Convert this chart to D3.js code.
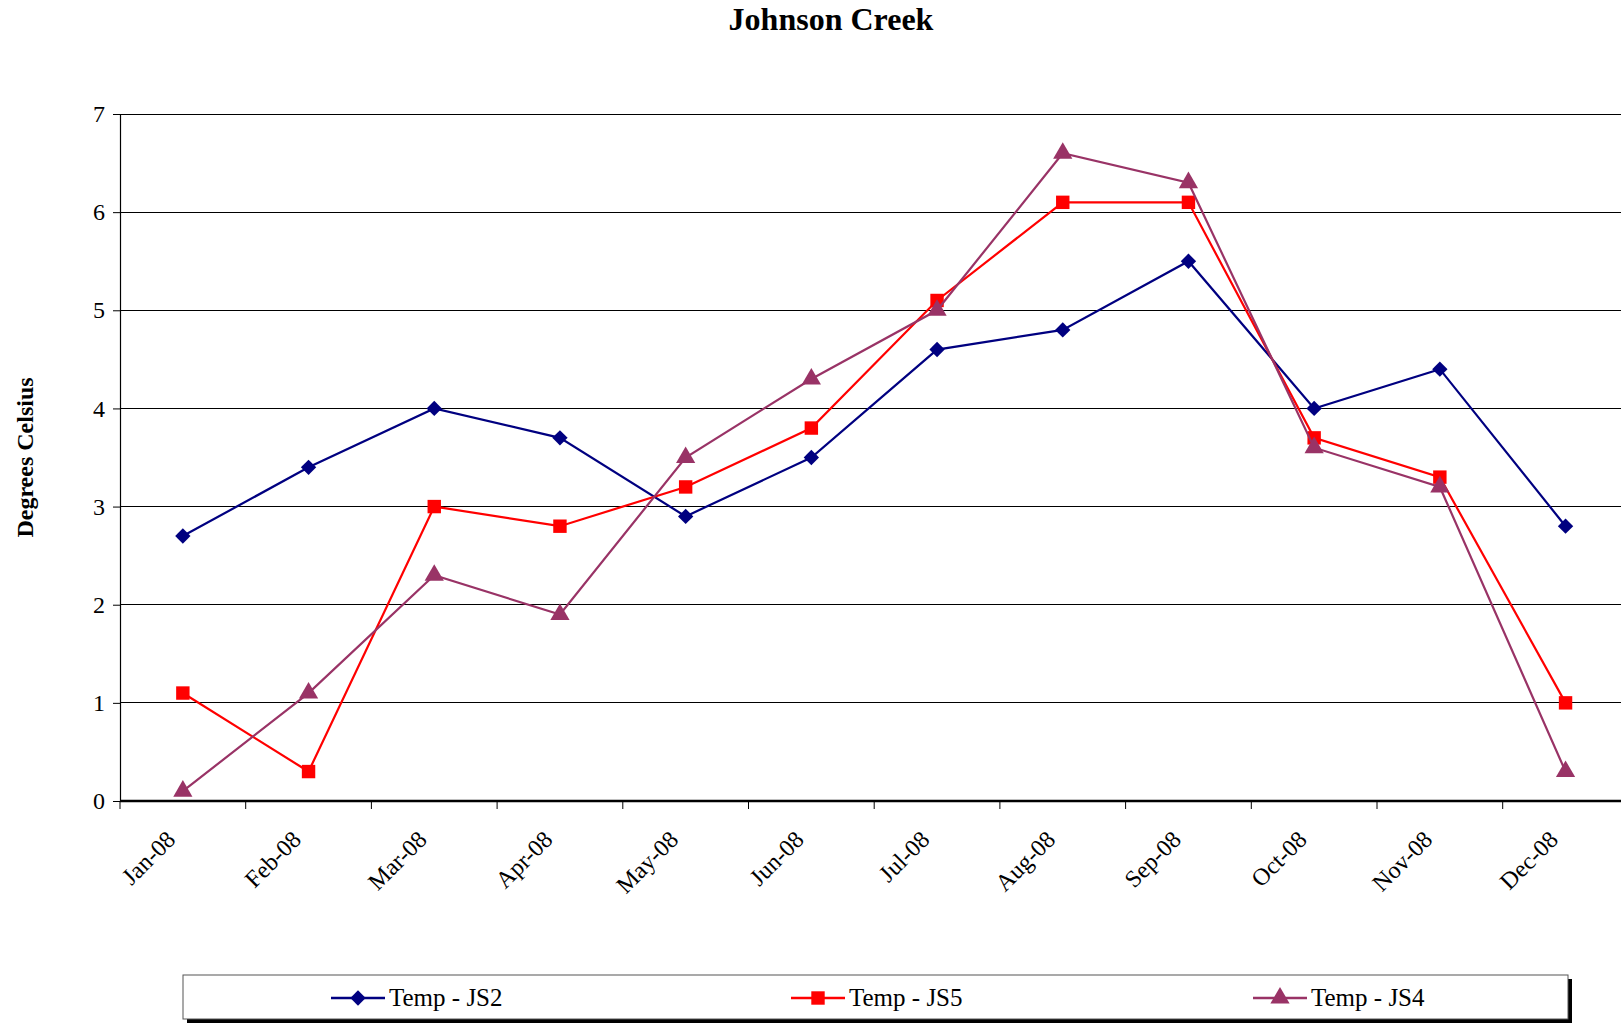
<!DOCTYPE html>
<html>
<head>
<meta charset="utf-8">
<script src="https://cdn.jsdelivr.net/npm/d3@7"></script>
<style>
  html, body { margin: 0; padding: 0; background: #fff; }
  svg { display: block; }
  svg text { font-family: "Liberation Serif", "Times New Roman", serif !important; fill: #000; }
</style>
</head>
<body>
<svg id="chart" width="1621" height="1023"></svg>
<script>
// Monthly water temperatures at three Johnson Creek stations, 2008
const months = ["Jan-08", "Feb-08", "Mar-08", "Apr-08", "May-08", "Jun-08",
                "Jul-08", "Aug-08", "Sep-08", "Oct-08", "Nov-08", "Dec-08"];
const js2 = [2.7, 3.4, 4.0, 3.7, 2.9, 3.5, 4.6, 4.8, 5.5, 4.0, 4.4, 2.8];
const js5 = [1.1, 0.3, 3.0, 2.8, 3.2, 3.8, 5.1, 6.1, 6.1, 3.7, 3.3, 1.0];
const js4 = [0.1, 1.1, 2.3, 1.9, 3.5, 4.3, 5.0, 6.6, 6.3, 3.6, 3.2, 0.3];
const yTicks = [0, 1, 2, 3, 4, 5, 6, 7];

const series = [
  { name: "Temp - JS2", values: js2, color: "#000080", symbol: "diamond" },
  { name: "Temp - JS5", values: js5, color: "#FF0000", symbol: "square" },
  { name: "Temp - JS4", values: js4, color: "#993366", symbol: "triangle" }
];

const svg = d3.select("#chart");
const plotLeft = 120, plotTop = 114, plotBottom = 801;
const band = 125.7;
const plotRight = plotLeft + band * months.length;

const x = d3.scaleBand().domain(months).range([plotLeft, plotRight]).padding(0);
const y = d3.scaleLinear().domain([0, 7]).range([plotBottom, plotTop]);
const cx = m => x(m) + x.bandwidth() / 2;

// Title
svg.append("text")
  .attr("x", 831).attr("y", 30)
  .attr("text-anchor", "middle")
  .attr("font-size", 32).attr("font-weight", "bold")
  .text("Johnson Creek");

// Y-axis title
svg.append("text")
  .attr("transform", `translate(33,${(plotTop + plotBottom) / 2}) rotate(-90)`)
  .attr("text-anchor", "middle")
  .attr("font-size", 24).attr("font-weight", "bold")
  .text("Degrees Celsius");

// Horizontal gridlines
svg.append("g")
  .selectAll("line")
  .data(yTicks.filter(t => t > 0))
  .join("line")
  .attr("x1", plotLeft).attr("x2", plotRight)
  .attr("y1", d => y(d)).attr("y2", d => y(d))
  .attr("stroke", "#000").attr("stroke-width", 1)
  .attr("shape-rendering", "crispEdges");

// Y axis
const yAxis = svg.append("g")
  .attr("transform", `translate(${plotLeft},0)`)
  .call(d3.axisLeft(y).tickValues(yTicks).tickSize(7).tickPadding(8).tickFormat(d3.format("d")));
yAxis.select(".domain").attr("stroke", "#000").attr("stroke-width", 1.2);
yAxis.selectAll(".tick line").attr("stroke", "#000");
yAxis.selectAll(".tick text").attr("font-size", 24);

// X axis baseline and tick marks at month boundaries
const xg = svg.append("g");
xg.append("line")
  .attr("x1", plotLeft).attr("x2", plotRight)
  .attr("y1", plotBottom).attr("y2", plotBottom)
  .attr("stroke", "#000").attr("stroke-width", 2.5);
xg.selectAll("line.tick")
  .data(months.map(m => x(m)).concat([plotRight]))
  .join("line").attr("class", "tick")
  .attr("x1", d => d).attr("x2", d => d)
  .attr("y1", plotBottom).attr("y2", plotBottom + 8)
  .attr("stroke", "#000").attr("stroke-width", 1);
xg.selectAll("text")
  .data(months)
  .join("text")
  .attr("transform", d => `translate(${cx(d) - 6},${plotBottom + 40}) rotate(-45)`)
  .attr("text-anchor", "end")
  .attr("font-size", 24)
  .text(d => d);

// Series lines and markers
const symbolFor = s => {
  if (s === "diamond") return d3.symbol().type(d3.symbolDiamond2).size(150)();
  if (s === "square") return d3.symbol().type(d3.symbolSquare).size(180)();
  return d3.symbol().type(d3.symbolTriangle).size(160)();
};

const line = d3.line().x(d => cx(d.m)).y(d => y(d.v));

series.forEach(s => {
  const pts = months.map((m, i) => ({ m, v: s.values[i] }));
  const g = svg.append("g");
  g.append("path")
    .datum(pts)
    .attr("d", line)
    .attr("fill", "none")
    .attr("stroke", s.color)
    .attr("stroke-width", 2.2);
  g.selectAll("path.mark")
    .data(pts)
    .join("path").attr("class", "mark")
    .attr("transform", d => `translate(${cx(d.m)},${y(d.v)})`)
    .attr("d", symbolFor(s.symbol))
    .attr("fill", s.color);
});

// Legend box with drop shadow
const lg = svg.append("g");
lg.append("rect")
  .attr("x", 187).attr("y", 979).attr("width", 1385).attr("height", 44)
  .attr("fill", "#000");
lg.append("rect")
  .attr("x", 183).attr("y", 975).attr("width", 1385).attr("height", 44)
  .attr("fill", "#fff").attr("stroke", "#555").attr("stroke-width", 1);

const legendX = [331, 791, 1253];
series.forEach((s, i) => {
  const gx = legendX[i], gy = 998;
  lg.append("line")
    .attr("x1", gx).attr("x2", gx + 54)
    .attr("y1", gy).attr("y2", gy)
    .attr("stroke", s.color).attr("stroke-width", 2.5);
  lg.append("path")
    .attr("transform", `translate(${gx + 27},${gy})`)
    .attr("d", symbolFor(s.symbol))
    .attr("fill", s.color);
  lg.append("text")
    .attr("x", gx + 58).attr("y", gy + 8)
    .attr("font-size", 25)
    .text(s.name);
});
</script>
</body>
</html>
